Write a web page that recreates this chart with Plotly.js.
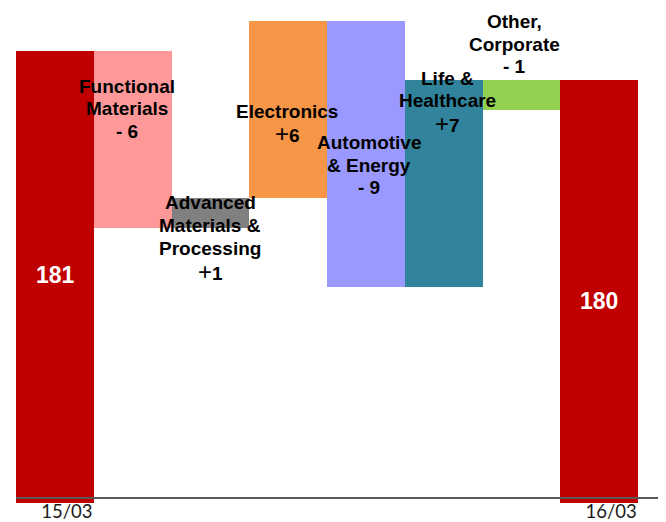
<!DOCTYPE html>
<html>
<head>
<meta charset="utf-8">
<script src="https://cdn.plot.ly/plotly-3.0.1.min.js"></script>
<style>
  html, body { margin: 0; padding: 0; background: #ffffff; }
  #chart { width: 666px; height: 522px; }
</style>
</head>
<body>
<div id="chart"></div>
<script>
// Sales bridge, 15/03 -> 16/03, by segment
const startLabel = '15/03';
const endLabel = '16/03';
const startTotal = 181;
const endTotal = 180;

const segments = ['Functional Materials', 'Advanced Materials & Processing', 'Electronics',
                  'Automotive & Energy', 'Life & Healthcare', 'Other, Corporate'];
const segmentLines = [['Functional', 'Materials'], ['Advanced', 'Materials &', 'Processing'], ['Electronics'],
                      ['Automotive', '& Energy'], ['Life &', 'Healthcare'], ['Other,', 'Corporate']];
const deltas = [-6, 1, 6, -9, 7, -1];

const totalColor = '#C00000';
const segmentColors = ['#FF9999', '#808080', '#F79646', '#9999FF', '#31849B', '#92D050'];

// Floating bars: totals sit on zero, segment bars float on the running total
const xs = [], bases = [], heights = [], colors = [];
xs.push(0); bases.push(0); heights.push(startTotal); colors.push(totalColor);
let running = startTotal;
deltas.forEach((d, i) => {
  xs.push(i + 1); bases.push(running); heights.push(d); colors.push(segmentColors[i]);
  running += d;
});
xs.push(deltas.length + 1); bases.push(0); heights.push(endTotal); colors.push(totalColor);

const trace = {
  type: 'bar',
  x: xs,
  y: heights,
  base: bases,
  width: 1,
  marker: { color: colors, line: { width: 0 } },
  hoverinfo: 'skip'
};

// Plot area in pixels
const W = 666, H = 522;
const L = 16, R = 8, T = 10, B = 19;
const plotW = W - L - R, plotH = H - T - B;
const px = v => (v - L) / plotW;
const py = v => (H - B - v) / plotH;

// y scale: pixels per unit and the pixel row of the top value
const unitPx = 29.5, topVal = 182, topPx = 21;

const fmtDelta = d => (d < 0 ? '- ' + Math.abs(d)
                             : '<span style="font-weight:normal;font-size:24px">+</span>' + d);
const labelFont = { family: 'Liberation Sans, Arial, sans-serif', size: 19, color: '#000000', weight: 'bold' };
const labelPos = [[127, 109], [210, 237], [287, 122.5], [369, 165], [447, 101], [514, 44]];
const lineStep = 22.8;

const annotations = [];
segmentLines.forEach((lines, i) => {
  const all = lines.concat([fmtDelta(deltas[i])]);
  const n = all.length;
  all.forEach((txt, j) => {
    annotations.push({
      xref: 'paper', yref: 'paper',
      x: px(labelPos[i][0]),
      y: py(labelPos[i][1] + (j - (n - 1) / 2) * lineStep),
      xanchor: 'center', yanchor: 'middle',
      text: txt, showarrow: false, font: labelFont
    });
  });
});

const totalFont = { family: 'Liberation Sans, Arial, sans-serif', size: 23, color: '#FFFFFF', weight: 'bold' };
annotations.push({
  xref: 'paper', yref: 'paper', x: px(55), y: py(275),
  xanchor: 'center', yanchor: 'middle', text: String(startTotal),
  showarrow: false, font: totalFont
});
annotations.push({
  xref: 'paper', yref: 'paper', x: px(599), y: py(301),
  xanchor: 'center', yanchor: 'middle', text: String(endTotal),
  showarrow: false, font: totalFont
});

const layout = {
  width: W, height: H,
  margin: { l: L, r: R, t: T, b: B, pad: 0 },
  paper_bgcolor: '#ffffff', plot_bgcolor: '#ffffff',
  showlegend: false,
  bargap: 0,
  xaxis: {
    type: 'linear',
    range: [-0.5, -0.5 + plotW / 77.75],
    tickvals: [0, deltas.length + 1],
    ticktext: [startLabel, endLabel],
    ticks: '',
    showgrid: false, zeroline: false,
    showline: true, linecolor: '#595959', linewidth: 2,
    anchor: 'free', position: (H - B - 497.7) / plotH,
    ticklabelshift: 12,
    ticklabelstandoff: -3,
    tickfont: { family: 'Lato, sans-serif', size: 18.5, color: '#1a1a1a' },
    fixedrange: true
  },
  yaxis: {
    range: [topVal - (H - B - topPx) / unitPx, topVal + (topPx - T) / unitPx],
    visible: false, showgrid: false, zeroline: false,
    fixedrange: true
  },
  annotations: annotations
};

Plotly.newPlot('chart', [trace], layout, { displayModeBar: false, staticPlot: true });
</script>
</body>
</html>
